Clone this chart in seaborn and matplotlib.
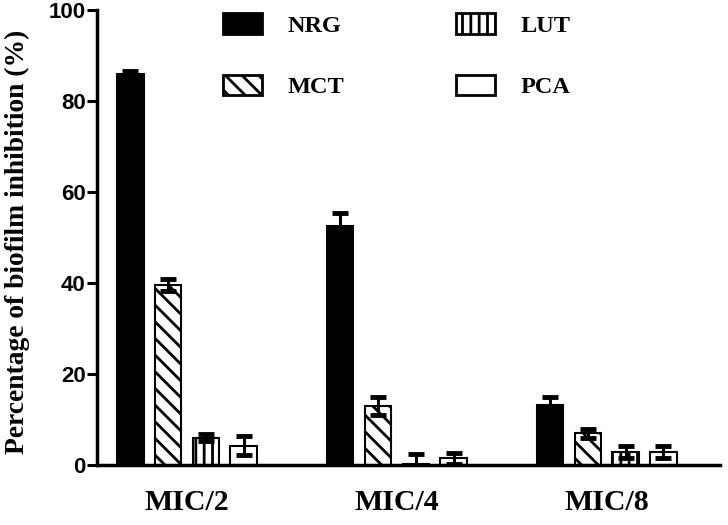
import numpy as np
import pandas as pd
import matplotlib
matplotlib.use("Agg")
import matplotlib.pyplot as plt
import seaborn as sns

groups = ["MIC/2", "MIC/4", "MIC/8"]
compounds = ["NRG", "MCT", "LUT", "PCA"]
nrg = [86.0, 52.5, 13.2]
mct = [39.5, 13.0, 7.0]
lut = [6.0, 0.3, 2.8]
pca = [4.3, 1.5, 2.8]
nrg_err = [0.5, 3.0, 1.8]
mct_err = [1.3, 2.0, 1.0]
lut_err = [0.8, 2.2, 1.3]
pca_err = [2.0, 1.2, 1.3]
yticks = [0, 20, 40, 60, 80, 100]

values = {"NRG": nrg, "MCT": mct, "LUT": lut, "PCA": pca}
errors = {"NRG": nrg_err, "MCT": mct_err, "LUT": lut_err, "PCA": pca_err}
rows = []
for c in compounds:
    for g, v, e in zip(groups, values[c], errors[c]):
        rows.append({"group": g, "compound": c, "value": v, "err": e})
df = pd.DataFrame(rows)

sns.set_style("ticks")
plt.rcParams["hatch.linewidth"] = 2.0
plt.rcParams["hatch.color"] = "black"
plt.rcParams["text.color"] = "black"
plt.rcParams["axes.labelcolor"] = "black"
plt.rcParams["xtick.color"] = "black"
plt.rcParams["ytick.color"] = "black"
plt.rcParams["axes.edgecolor"] = "black"

fig = plt.figure(figsize=(7.28, 5.25), dpi=100)
ax = fig.add_axes([0.133, 0.114, 0.856, 0.867])

palette = {"NRG": "black", "MCT": "white", "LUT": "white", "PCA": "white"}
sns.barplot(data=df, x="group", y="value", hue="compound", order=groups,
            hue_order=compounds, palette=palette, width=0.72, gap=0.3,
            errorbar=None, edgecolor="black", linewidth=1.5, ax=ax,
            saturation=1)

hatches = {"NRG": "", "MCT": "\\\\", "LUT": "||", "PCA": ""}
for cont, c in zip(ax.containers, compounds):
    sub = df[df.compound == c].set_index("group").loc[groups]
    xs = []
    for bar in cont:
        bar.set_hatch(hatches[c])
        bar.set_edgecolor("black")
        xs.append(bar.get_x() + bar.get_width() / 2)
    ax.errorbar(xs, sub["value"].values, yerr=sub["err"].values, fmt="none",
                ecolor="black", elinewidth=2.2, capsize=5.5, capthick=3.5,
                zorder=5)

ax.set_ylim(0, 100)
ax.set_xlim(-0.43, 2.54)
ax.set_yticks(yticks)
ax.set_yticklabels([str(t) for t in yticks], fontfamily="Liberation Sans",
                   fontweight="bold", fontsize=16)
ax.set_xticks(range(len(groups)))
ax.set_xticklabels(groups, fontfamily="Liberation Serif", fontweight="bold",
                   fontsize=21.5)
ax.tick_params(axis="x", length=0, pad=17)
ax.tick_params(axis="y", length=7, width=2.2, pad=1)
for s in ["top", "right"]:
    ax.spines[s].set_visible(False)
for s in ["left", "bottom"]:
    ax.spines[s].set_linewidth(2.5)
ax.set_xlabel("")
ax.set_ylabel("Percentage of biofilm inhibition (%)", fontfamily="Liberation Serif",
              fontweight="bold", fontsize=19.8)
ax.yaxis.set_label_coords(-0.108, 0.49)

handles, labels = ax.get_legend_handles_labels()
for h, c in zip(handles, labels):
    h.set_hatch(hatches[c])
    h.set_edgecolor("black")
    h.set_linewidth(2)
ax.legend(handles, labels, ncol=2, loc="upper left",
          bbox_to_anchor=(223 / 728, 1 - 13 / 525), bbox_transform=fig.transFigure,
          frameon=False, borderpad=0, borderaxespad=0,
          prop={"family": "Liberation Serif", "weight": "bold", "size": 17.5},
          handlelength=1.6, handleheight=0.95, handletextpad=1.05,
          labelspacing=1.55, columnspacing=4.6)

fig.savefig("out.png", dpi=100)
